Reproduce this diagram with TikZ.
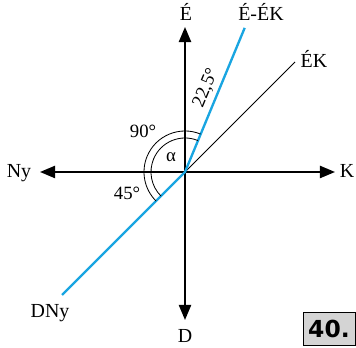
\documentclass[tikz,border=0pt]{standalone}
\usepackage{fontspec}
\setmainfont{Liberation Serif}
\newfontfamily\boxfont{DejaVu Sans}
\usepackage{tikz}
\usetikzlibrary{arrows.meta,positioning,calc}
\definecolor{dirblue}{RGB}{25,165,225}
\definecolor{boxgray}{RGB}{212,212,212}

\begin{document}
\begin{tikzpicture}[x=0.03cm, y=0.03cm,
  axisarrow/.style={line width=1.6pt, -{Triangle[length=13pt,width=10.5pt]}},
  dirline/.style={line width=2pt, dirblue},
  thinline/.style={line width=0.7pt},
  dirlabel/.style={font=\fontsize{17}{20}\selectfont, inner sep=0pt, anchor=base},
  anglelabel/.style={font=\fontsize{16}{19}\selectfont, inner sep=0pt}]
\useasboundingbox (0,0) rectangle (356,348);
% centre and end points
\coordinate (O) at (185,176);
\coordinate (N) at (185,321);
\coordinate (S) at (185,28);
\coordinate (W) at (40,176);
\coordinate (E) at (335,176);
\coordinate (NE) at (295,286);
\coordinate (NNE) at ($(O)+(67.5:156)$);
\coordinate (SW) at (62,53);
% axes
\draw[axisarrow] (O) -- (N);
\draw[axisarrow] (O) -- (S);
\draw[axisarrow] (O) -- (W);
\draw[axisarrow] (O) -- (E);
\draw[thinline] (O) -- (NE);
\draw[dirline] (SW) -- (O) -- (NNE);
% angle arcs
\draw[thinline] (O) ++(67.5:41) arc[start angle=67.5, end angle=225, radius=41];
\draw[thinline] (O) ++(67.5:34) arc[start angle=67.5, end angle=225, radius=34];
% labels
\node[dirlabel] (lN) at (186,327) {É};
\node[dirlabel] (lNNE) at (261,327) {É-ÉK};
\node[dirlabel] (lNE) at (314,280) {ÉK};
\node[dirlabel] (lE) at (347,170) {K};
\node[dirlabel] (lW) at (19,170) {Ny};
\node[dirlabel] (lSW) at (50,30) {DNy};
\node[dirlabel] (lS) at (185,5) {D};
\node[anglelabel, anchor=base] (a90) at (143,210) {90°};
\node[anglelabel] (alpha) at (171,191) {α};
\node[anglelabel, anchor=base] (a45) at (127,148) {45°};
\node[anglelabel, rotate=67.5] (a22) at (206,260) {22,5°};
% number box
\draw[fill=boxgray, line width=0.8pt] (303,3) rectangle (355.5,36);
\node[font=\boxfont\bfseries\fontsize{20}{24}\selectfont] (num) at (329,19.5) {40.};
\end{tikzpicture}
\end{document}
